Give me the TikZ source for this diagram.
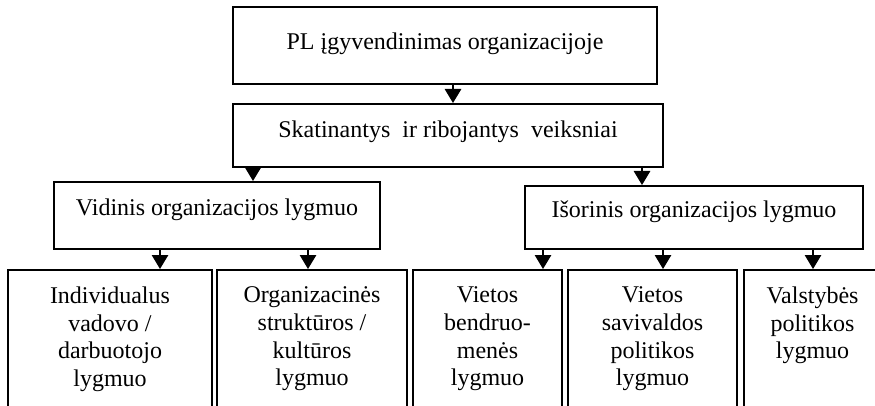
\documentclass[tikz,border=0pt]{standalone}
\usepackage{fontspec}
\setmainfont{Liberation Serif}
\usepackage{tikz}
\usetikzlibrary{positioning,arrows.meta}

\begin{document}
\begin{tikzpicture}[x=1pt,y=-1pt]
            \tikzstyle{every node}=[font=\fontsize{24}{27.6}\selectfont]
            \tikzstyle{box}=[draw, line width=2pt, text height=16.4pt, inner sep=0pt]
            \tikzstyle{lvl}=[draw, line width=2pt, anchor=north, align=center, inner xsep=2pt, inner ysep=17pt, text depth=150pt]
            \tikzstyle{arr}=[line width=1.2pt, -{Triangle[length=14pt,width=16.5pt]}]
            \useasboundingbox (0,0) rectangle (875,406);
            \clip (0,0) rectangle (875,406);
            \node [box, minimum width=424pt, minimum height=77pt, text depth=7.4pt] (pl) at (445,45.5) {PL įgyvendinimas organizacijoje};
            \node [box, minimum width=430pt, minimum height=63pt, text depth=12.4pt] (veik) at (448,135.5) {Skatinantys\ \ ir ribojantys\ \ veiksniai};
            \node [box, minimum width=326pt, minimum height=67pt, text depth=17.4pt] (vid) at (217,215.5) {Vidinis organizacijos lygmuo};
            \node [box, minimum width=338pt, minimum height=63pt, text depth=15.4pt] (isor) at (694,217.5) {Išorinis organizacijos lygmuo};
            \node [lvl, minimum width=204pt] (ind) at (110,269) {Individualus\\vadovo /\\darbuotojo\\lygmuo};
            \node [lvl, minimum width=190pt] (org) at (312,269) {Organizacinės\\struktūros /\\kultūros\\lygmuo};
            \node [lvl, minimum width=149pt] (bend) at (487.5,269) {Vietos\\bendruo-\\menės\\lygmuo};
            \node [lvl, minimum width=169pt] (sav) at (652.5,269) {Vietos\\savivaldos\\politikos\\lygmuo};
            \node [lvl, minimum width=137pt] (valst) at (812.5,269) {Valstybės\\politikos\\lygmuo};
            \draw [arr] (pl.south -| 453,0) -- (veik.north -| 453,0);
            \draw [arr] (veik.south -| 253,0) -- (vid.north -| 253,0);
            \draw [arr] (veik.south -| 642,0) -- (isor.north -| 642,0);
            \draw [arr] (vid.south -| 160,0) -- (ind.north -| 160,0);
            \draw [arr] (vid.south -| 308,0) -- (org.north -| 308,0);
            \draw [arr] (isor.south -| 543,0) -- (bend.north -| 543,0);
            \draw [arr] (isor.south -| 663,0) -- (sav.north -| 663,0);
            \draw [arr] (isor.south -| 813,0) -- (valst.north -| 813,0);
\end{tikzpicture}
\end{document}
